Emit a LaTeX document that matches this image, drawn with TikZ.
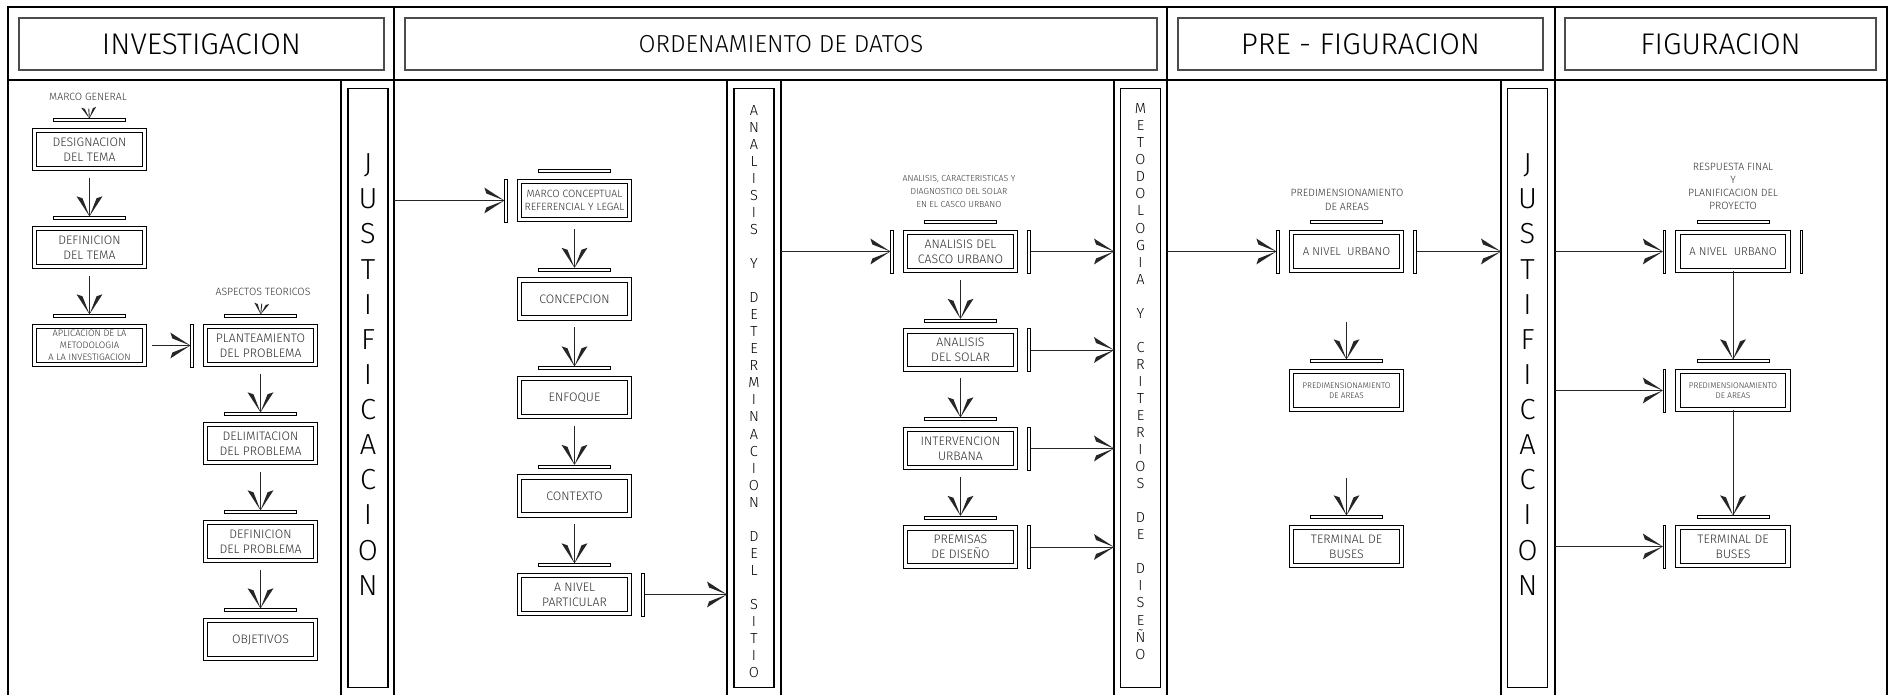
\documentclass[tikz,border=0pt]{standalone}
\usepackage{fontspec}
\IfFontExistsTF{Fira Sans Light}{\setmainfont{Fira Sans Light}}{\setmainfont{Fira Sans}}
\usetikzlibrary{positioning, arrows.meta}

% punta de flecha tipo plano (dos cunas rellenas)
\pgfdeclarearrow{
  name = cad,
  parameters = {\the\pgfarrowlength,\the\pgfarrowwidth},
  setup code = {
    \pgfarrowssettipend{0pt}
    \pgfarrowssetlineend{-.5\pgflinewidth}
    \pgfarrowssetbackend{-\pgfarrowlength}
    \pgfarrowssavethe\pgfarrowlength
    \pgfarrowssavethe\pgfarrowwidth
  },
  drawing code = {
    \pgfpathmoveto{\pgfpointorigin}
    \pgfpathlineto{\pgfpoint{-\pgfarrowlength}{.5\pgfarrowwidth}}
    \pgfpathlineto{\pgfpoint{-.9\pgfarrowlength}{.27\pgfarrowwidth}}
    \pgfpathclose
    \pgfpathmoveto{\pgfpointorigin}
    \pgfpathlineto{\pgfpoint{-\pgfarrowlength}{-.5\pgfarrowwidth}}
    \pgfpathlineto{\pgfpoint{-.9\pgfarrowlength}{-.27\pgfarrowwidth}}
    \pgfpathclose
    \pgfusepathqfill
  },
  defaults = {length = 0.4cm, width = 0.52cm}
}

\begin{document}
\begin{tikzpicture}[x=0.02cm, y=-0.02cm,
  linea/.style={line width=0.6pt},
  titulo/.style={draw=black!70, line width=0.8pt, minimum height=1.04cm, inner sep=0pt},
  caja/.style={draw, double, double distance=0.07cm, line width=0.45pt, minimum width=2.2cm, minimum height=0.76cm, inner sep=1pt, align=center, text=black!82, font=\fontsize{7}{8.5}\selectfont},
  barra/.style={draw, line width=0.45pt, minimum width=1.44cm, minimum height=0.06cm, inner sep=0pt},
  lado/.style={draw, line width=0.45pt, minimum width=0.05cm, minimum height=0.86cm, inner sep=0pt},
  flecha/.style={-{cad}, draw=black!85, line width=0.5pt},
  flechita/.style={-{cad[length=0.22cm, width=0.3cm]}, draw=black!85, line width=0.5pt},
  nota/.style={align=center, text=black!80, font=\fontsize{6}{7.4}\selectfont},
  banda/.style={draw, line width=0.6pt, minimum width=0.8cm, minimum height=12cm, inner sep=0pt},
  letras/.style={align=center, font=\fontsize{8.3}{9.7}\selectfont},
  letrasg/.style={align=center, font=\fontsize{16.5}{20}\selectfont}]
  \useasboundingbox (0,0) rectangle (1890,695);

  % marco y columnas
  \draw[linea] (8,695) -- (8,7) -- (1887,7) -- (1887,695);
  \draw[linea] (8,80) -- (1887,80);
  \foreach \x in {394,1167,1555} \draw[linea] (\x,7) -- (\x,695);
  \foreach \x in {341,727,781,1114,1501} \draw[linea] (\x,80) -- (\x,695);

  % titulos
  \node[titulo, minimum width=7.3cm, font=\fontsize{17}{20}\selectfont] (tinv) at (201.5,44) {INVESTIGACION};
  \node[titulo, minimum width=15.04cm, font=\fontsize{14}{17}\selectfont] (tord) at (781,44) {ORDENAMIENTO DE DATOS};
  \node[titulo, minimum width=7.3cm, font=\fontsize{17}{20}\selectfont] (tpre) at (1360.5,44) {PRE - FIGURACION};
  \node[titulo, minimum width=6.22cm, font=\fontsize{17}{20}\selectfont] (tfig) at (1720.5,44) {FIGURACION};

  % bandas verticales
  \node[banda] (jus1) at (368,388) {};
  \node[letrasg] (tjus1) at (368,374.5) {J\\U\\S\\T\\I\\F\\I\\C\\A\\C\\I\\O\\N};
  \node[banda] (ana) at (754,388) {};
  \node[letras] (tana) at (754,391.5) {A\\N\\A\\L\\I\\S\\I\\S\\~\\Y\\~\\D\\E\\T\\E\\R\\M\\I\\N\\A\\C\\I\\O\\N\\~\\D\\E\\L\\~\\S\\I\\T\\I\\O};
  \node[banda] (met) at (1140.5,388) {};
  \node[letras] (tmet) at (1140.5,381.5) {M\\E\\T\\O\\D\\O\\L\\O\\G\\I\\A\\~\\Y\\~\\C\\R\\I\\T\\E\\R\\I\\O\\S\\~\\D\\E\\~\\D\\I\\S\\E\\Ñ\\O};
  \node[banda] (jus2) at (1527.5,388) {};
  \node[letrasg] (tjus2) at (1527.5,374.5) {J\\U\\S\\T\\I\\F\\I\\C\\A\\C\\I\\O\\N};

  % investigacion
  \node[nota] (mg) at (88,97) {MARCO GENERAL};
  \node[caja] (des) at (89.5,149.5) {DESIGNACION\\DEL TEMA};
  \node[caja] (deft) at (89.5,247.5) {DEFINICION\\DEL TEMA};
  \node[caja, font=\fontsize{5.3}{6.8}\selectfont] (apl) at (89.5,345.5) {APLICACION DE LA\\METODOLOGIA\\A LA INVESTIGACION};
  \node[barra, above=0.16cm of des] (bdes) {};
  \node[barra, above=0.16cm of deft] (bdeft) {};
  \node[barra, above=0.16cm of apl] (bapl) {};
  \draw[flechita, shorten <=1pt] (mg) -- (bdes);
  \draw[flecha, shorten <=0.18cm] (des) -- (bdeft);
  \draw[flecha, shorten <=0.18cm] (deft) -- (bapl);

  \node[nota] (at) at (263,292) {ASPECTOS TEORICOS};
  \node[caja] (pla) at (260.5,345.5) {PLANTEAMIENTO\\DEL PROBLEMA};
  \node[caja] (del) at (260.5,443.5) {DELIMITACION\\DEL PROBLEMA};
  \node[caja] (defp) at (260.5,541.5) {DEFINICION\\DEL PROBLEMA};
  \node[caja] (obj) at (260.5,639.5) {OBJETIVOS};
  \node[barra, above=0.16cm of pla] (bpla) {};
  \node[barra, above=0.16cm of del] (bdel) {};
  \node[barra, above=0.16cm of defp] (bdefp) {};
  \node[barra, above=0.16cm of obj] (bobj) {};
  \node[lado, left=0.23cm of pla] (lpla) {};
  \draw[flechita, shorten <=1pt] (at) -- (bpla);
  \draw[flecha, shorten <=0.14cm] (apl) -- (lpla);
  \draw[flecha, shorten <=0.18cm] (pla) -- (bdel);
  \draw[flecha, shorten <=0.18cm] (del) -- (bdefp);
  \draw[flecha, shorten <=0.18cm] (defp) -- (bobj);

  % ordenamiento de datos
  \node[caja, font=\fontsize{6}{7.4}\selectfont] (mc) at (574.5,200.5) {MARCO CONCEPTUAL\\REFERENCIAL Y LEGAL};
  \node[caja] (con) at (574.5,299) {CONCEPCION};
  \node[caja] (enf) at (574.5,397.5) {ENFOQUE};
  \node[caja] (ctx) at (574.5,496) {CONTEXTO};
  \node[caja] (anp) at (574.5,594.5) {A NIVEL\\PARTICULAR};
  \node[barra, above=0.16cm of mc] (bmc) {};
  \node[barra, above=0.16cm of con] (bcon) {};
  \node[barra, above=0.16cm of enf] (benf) {};
  \node[barra, above=0.16cm of ctx] (bctx) {};
  \node[barra, above=0.16cm of anp] (banp) {};
  \node[lado, left=0.23cm of mc] (lmc) {};
  \node[lado, right=0.23cm of anp] (lanp) {};
  \coordinate (e1) at (394,200.5);
  \coordinate (s1) at (727,594.5);
  \draw[flecha] (e1) -- (lmc);
  \draw[flecha, shorten <=0.18cm] (mc) -- (bcon);
  \draw[flecha, shorten <=0.18cm] (con) -- (benf);
  \draw[flecha, shorten <=0.18cm] (enf) -- (bctx);
  \draw[flecha, shorten <=0.18cm] (ctx) -- (banp);
  \draw[flecha] (lanp) -- (s1);

  \node[nota, font=\fontsize{5}{7.4}\selectfont] (acd) at (959,191) {ANALISIS, CARACTERISTICAS Y\\DIAGNOSTICO DEL SOLAR\\EN EL CASCO URBANO};
  \node[caja] (acu) at (960.5,251.5) {ANALISIS DEL\\CASCO URBANO};
  \node[caja] (ads) at (960.5,350) {ANALISIS\\DEL SOLAR};
  \node[caja] (iur) at (960.5,448.5) {INTERVENCION\\URBANA};
  \node[caja] (pdd) at (960.5,547) {PREMISAS\\DE DISEÑO};
  \node[barra, above=0.16cm of acu] (bacu) {};
  \node[barra, above=0.16cm of ads] (bads) {};
  \node[barra, above=0.16cm of iur] (biur) {};
  \node[barra, above=0.16cm of pdd] (bpdd) {};
  \node[lado, left=0.23cm of acu] (lacu) {};
  \coordinate (e2) at (781,251.5);
  \draw[flecha] (e2) -- (lacu);
  \draw[flecha, shorten <=0.18cm] (acu) -- (bads);
  \draw[flecha, shorten <=0.18cm] (ads) -- (biur);
  \draw[flecha, shorten <=0.18cm] (iur) -- (bpdd);
  \foreach \c/\y in {acu/251.5, ads/350, iur/448.5, pdd/547}{
    \node[lado, right=0.23cm of \c] (r\c) {};
    \coordinate (s\c) at (1114,\y);
    \draw[flecha] (r\c) -- (s\c);
  }

  % pre-figuracion
  \node[nota, font=\fontsize{6}{8}\selectfont] (pda) at (1347,200) {PREDIMENSIONAMIENTO\\DE AREAS};
  \node[caja, font=\fontsize{6.5}{8}\selectfont] (pnu) at (1346.5,251.5) {A NIVEL~~URBANO};
  \node[caja, font=\fontsize{4.7}{5.8}\selectfont] (ppa) at (1346.5,390.5) {PREDIMENSIONAMIENTO\\DE AREAS};
  \node[caja] (ptb) at (1346.5,546.5) {TERMINAL DE\\BUSES};
  \node[barra, above=0.16cm of pnu] (bpnu) {};
  \node[barra, above=0.16cm of ppa] (bppa) {};
  \node[barra, above=0.16cm of ptb] (bptb) {};
  \node[lado, left=0.23cm of pnu] (lpnu) {};
  \node[lado, right=0.23cm of pnu] (rpnu) {};
  \coordinate (e3) at (1167,251.5);
  \coordinate (s6) at (1501,251.5);
  \coordinate (f1) at (1346.5,322);
  \coordinate (f2) at (1346.5,478);
  \draw[flecha] (e3) -- (lpnu);
  \draw[flecha] (rpnu) -- (s6);
  \draw[flecha] (f1) -- (bppa);
  \draw[flecha] (f2) -- (bptb);

  % figuracion
  \node[nota] (rfp) at (1733,186) {RESPUESTA FINAL\\Y\\PLANIFICACION DEL\\PROYECTO};
  \node[caja, font=\fontsize{6.5}{8}\selectfont] (fnu) at (1733,251.5) {A NIVEL~~URBANO};
  \node[caja, font=\fontsize{4.7}{5.8}\selectfont] (fpa) at (1733,390.5) {PREDIMENSIONAMIENTO\\DE AREAS};
  \node[caja] (ftb) at (1733,546.5) {TERMINAL DE\\BUSES};
  \node[barra, above=0.16cm of fnu] (bfnu) {};
  \node[barra, above=0.16cm of fpa] (bfpa) {};
  \node[barra, above=0.16cm of ftb] (bftb) {};
  \node[lado, right=0.23cm of fnu] (rfnu) {};
  \foreach \c/\y in {fnu/251.5, fpa/390.5, ftb/546.5}{
    \node[lado, left=0.23cm of \c] (l\c) {};
    \coordinate (e\c) at (1555,\y);
    \draw[flecha] (e\c) -- (l\c);
  }
  \draw[flecha] (fnu) -- (bfpa);
  \draw[flecha] (fpa) -- (bftb);
\end{tikzpicture}
\end{document}
